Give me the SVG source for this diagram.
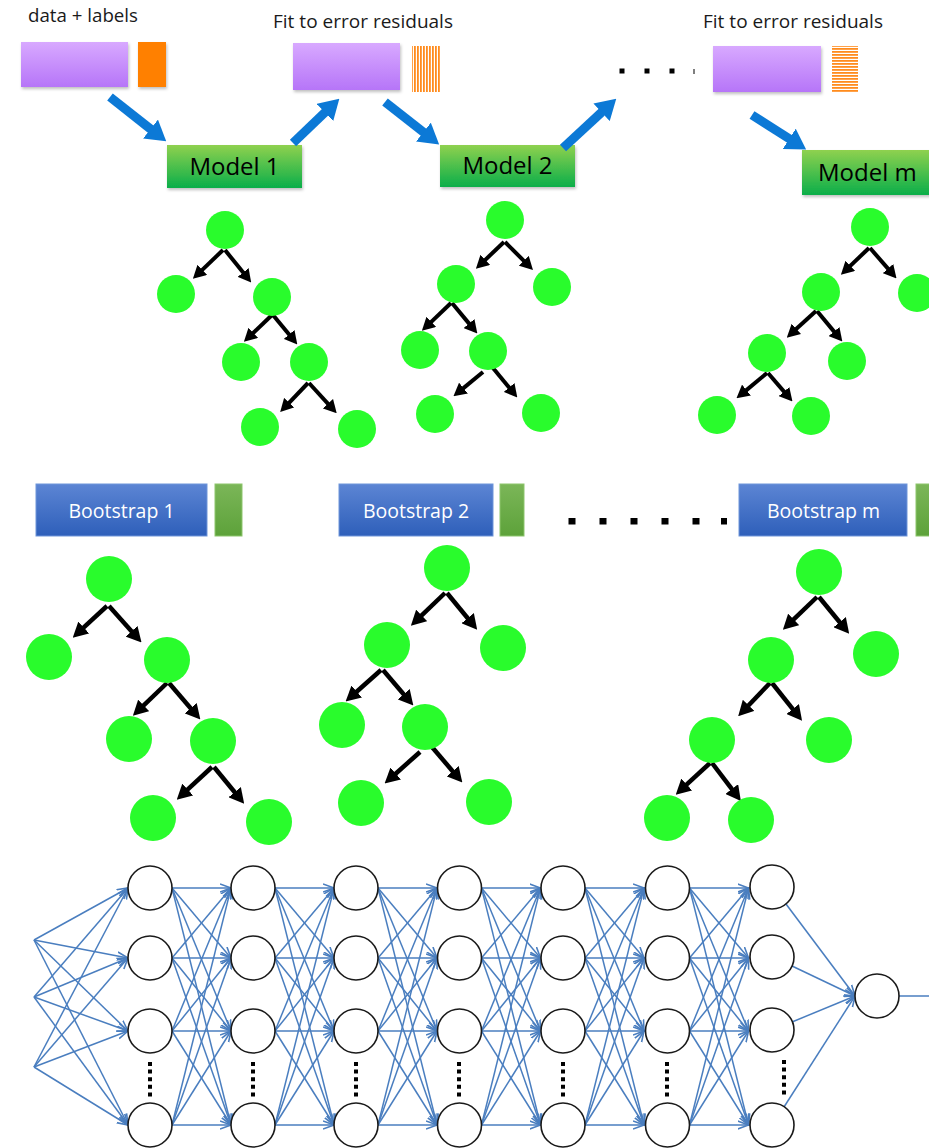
<svg xmlns="http://www.w3.org/2000/svg" xmlns:xlink="http://www.w3.org/1999/xlink" width="929" height="1148" viewBox="0 0 929 1148">
<defs>
<linearGradient id="gPurple" x1="0" y1="0" x2="0" y2="1"><stop offset="0" stop-color="#d8a9ff"/><stop offset="1" stop-color="#b675f8"/></linearGradient>
<linearGradient id="gModel" x1="0" y1="0" x2="0" y2="1"><stop offset="0" stop-color="#8fd14f"/><stop offset="1" stop-color="#0aae4a"/></linearGradient>
<linearGradient id="gBlue" x1="0" y1="0" x2="0" y2="1"><stop offset="0" stop-color="#5c85d4"/><stop offset="1" stop-color="#2e5fba"/></linearGradient>
<linearGradient id="gGreenBar" x1="0" y1="0" x2="0" y2="1"><stop offset="0" stop-color="#7bb658"/><stop offset="1" stop-color="#5da23a"/></linearGradient>
<pattern id="pV" patternUnits="userSpaceOnUse" width="3" height="10"><rect width="3" height="10" fill="#ffffff"/><rect width="1.8" height="10" fill="#ff8c1e"/></pattern>
<pattern id="pH" patternUnits="userSpaceOnUse" width="10" height="3"><rect width="10" height="3" fill="#ffffff"/><rect width="10" height="1.8" fill="#ff8c1e"/></pattern>
<filter id="sh" x="-10%" y="-10%" width="125%" height="135%"><feDropShadow dx="1" dy="2" stdDeviation="1.5" flood-color="#000" flood-opacity="0.25"/></filter>
<marker id="bigA" markerUnits="userSpaceOnUse" viewBox="0 0 20 24" markerWidth="20" markerHeight="24" refX="1" refY="12" orient="auto"><path d="M0,0 L20,12 L0,24 z" fill="#0c79d6"/></marker>
<marker id="tA" markerUnits="userSpaceOnUse" viewBox="0 0 13 14" markerWidth="13" markerHeight="14" refX="4" refY="7" orient="auto"><path d="M0,0 L13,7 L0,14 z" fill="#000"/></marker>
<marker id="tB" markerUnits="userSpaceOnUse" viewBox="0 0 15 16" markerWidth="15" markerHeight="16" refX="4" refY="8" orient="auto"><path d="M0,0 L15,8 L0,16 z" fill="#000"/></marker>
<marker id="nA" markerUnits="userSpaceOnUse" viewBox="0 0 12 10" markerWidth="12" markerHeight="10" refX="11" refY="5" orient="auto"><path d="M0,1 L11,5 L0,9" fill="none" stroke="#4a7ebf" stroke-width="1.6"/></marker>
<g id="gap" stroke="#4a7ebf" stroke-width="1.5" marker-end="url(#nA)">
<line x1="172" y1="888" x2="231" y2="888"/><line x1="172" y1="888" x2="231" y2="958"/><line x1="172" y1="888" x2="231" y2="1031"/><line x1="172" y1="888" x2="231" y2="1125"/>
<line x1="172" y1="958" x2="231" y2="888"/><line x1="172" y1="958" x2="231" y2="958"/><line x1="172" y1="958" x2="231" y2="1031"/><line x1="172" y1="958" x2="231" y2="1125"/>
<line x1="172" y1="1031" x2="231" y2="888"/><line x1="172" y1="1031" x2="231" y2="958"/><line x1="172" y1="1031" x2="231" y2="1031"/><line x1="172" y1="1031" x2="231" y2="1125"/>
<line x1="172" y1="1125" x2="231" y2="888"/><line x1="172" y1="1125" x2="231" y2="958"/><line x1="172" y1="1125" x2="231" y2="1031"/><line x1="172" y1="1125" x2="231" y2="1125"/>
</g>
</defs>
<style>
.lbl{font-family:"Open Sans","Liberation Sans",sans-serif;font-size:17.5px;fill:#1a1a1a}
.mdl{font-family:"Open Sans","Liberation Sans",sans-serif;font-size:24px;fill:#000}
.bs{font-family:"Open Sans","Liberation Sans",sans-serif;font-size:19.5px;fill:#ffffff}
.big{stroke:#0c79d6;stroke-width:9;fill:none;marker-end:url(#bigA)}
.ta{stroke:#000;stroke-width:4;marker-end:url(#tA)}
.tb{stroke:#000;stroke-width:4.5;marker-end:url(#tB)}
.leaf{fill:#29fc2c}
.nn line{stroke:#4a7ebf;stroke-width:1.5;marker-end:url(#nA)}
.neuron{fill:#ffffff;stroke:#1a1a1a;stroke-width:1.6}
.vd{stroke:#000;stroke-width:4;stroke-dasharray:4 3.6}
.sq{fill:#000}
</style>
<rect width="929" height="1148" fill="#ffffff"/>

<!-- top boosting row -->
<g id="data-labels">
<text class="lbl" x="28" y="22" textLength="110" lengthAdjust="spacingAndGlyphs">data + labels</text>
<rect x="21" y="42" width="107" height="45" fill="url(#gPurple)" filter="url(#sh)"/>
<rect x="138" y="42" width="28" height="45" fill="#ff8000" filter="url(#sh)"/>
</g>
<g id="residuals-1">
<text class="lbl" x="273" y="28" textLength="180" lengthAdjust="spacingAndGlyphs">Fit to error residuals</text>
<rect x="293" y="43" width="107" height="47" fill="url(#gPurple)" filter="url(#sh)"/>
<rect x="412" y="46" width="28" height="46" fill="url(#pV)"/>
</g>
<g id="dots-top">
<rect class="sq" x="619.5" y="68.5" width="5" height="5"/>
<rect class="sq" x="644.5" y="68.5" width="5" height="5"/>
<rect class="sq" x="669.5" y="68.5" width="5" height="5"/>
<rect class="sq" x="693.5" y="69" width="1" height="5"/>
</g>
<g id="residuals-m">
<text class="lbl" x="703" y="28" textLength="180" lengthAdjust="spacingAndGlyphs">Fit to error residuals</text>
<rect x="713" y="46" width="108" height="46" fill="url(#gPurple)" filter="url(#sh)"/>
<rect x="832" y="46" width="26" height="46" fill="url(#pH)"/>
</g>
<g id="model-1">
<rect x="167" y="145" width="135" height="43" fill="url(#gModel)" filter="url(#sh)"/>
<text class="mdl" x="234.5" y="175" text-anchor="middle">Model 1</text>
</g>
<g id="model-2">
<rect x="440" y="145" width="135" height="42" fill="url(#gModel)" filter="url(#sh)"/>
<text class="mdl" x="507.5" y="174" text-anchor="middle">Model 2</text>
</g>
<g id="model-m">
<rect x="802" y="150" width="140" height="45" fill="url(#gModel)" filter="url(#sh)"/>
<text class="mdl" x="818" y="181">Model m</text>
</g>
<g id="boost-connectors">
<line class="big" x1="110" y1="97" x2="151.3" y2="129.6"/>
<line class="big" x1="293" y1="143" x2="325.6" y2="111.8"/>
<line class="big" x1="385" y1="102" x2="424.2" y2="132.7"/>
<line class="big" x1="563" y1="148" x2="602.3" y2="111.6"/>
<line class="big" x1="752" y1="115" x2="790.1" y2="139.3"/>
</g>

<!-- top trees -->
<g id="tree-top-connectors">
<line class="ta" x1="223" y1="250" x2="199.4" y2="272.6"/>
<line class="ta" x1="225" y1="250" x2="245.6" y2="275.6"/>
<line class="ta" x1="272" y1="315" x2="250.4" y2="335.6"/>
<line class="ta" x1="273" y1="315" x2="291.6" y2="337.6"/>
<line class="ta" x1="308" y1="383" x2="286.4" y2="405.6"/>
<line class="ta" x1="309" y1="383" x2="330.6" y2="406.6"/>
<line class="ta" x1="504" y1="242" x2="482.4" y2="262.6"/>
<line class="ta" x1="505" y1="242" x2="526.6" y2="263.6"/>
<line class="ta" x1="451" y1="303" x2="428.4" y2="324.6"/>
<line class="ta" x1="452" y1="303" x2="471.6" y2="326.6"/>
<line class="ta" x1="483" y1="372" x2="460.4" y2="390.6"/>
<line class="ta" x1="493" y1="368" x2="511.6" y2="390.6"/>
<line class="ta" x1="869" y1="248" x2="847.4" y2="268.6"/>
<line class="ta" x1="870" y1="248" x2="890.6" y2="271.6"/>
<line class="ta" x1="816" y1="311" x2="793.4" y2="331.6"/>
<line class="ta" x1="817" y1="311" x2="836.6" y2="334.6"/>
<line class="ta" x1="767" y1="373" x2="743.4" y2="392.6"/>
<line class="ta" x1="768" y1="373" x2="786.6" y2="394.6"/>
</g>
<g id="t1-root"><circle class="leaf" cx="225" cy="230" r="19"/></g>
<g id="t1-l"><circle class="leaf" cx="176" cy="294" r="19"/></g>
<g id="t1-r"><circle class="leaf" cx="272" cy="297" r="19"/></g>
<g id="t1-rl"><circle class="leaf" cx="241" cy="362" r="19"/></g>
<g id="t1-rr"><circle class="leaf" cx="309" cy="362" r="19"/></g>
<g id="t1-rrl"><circle class="leaf" cx="260" cy="427" r="19"/></g>
<g id="t1-rrr"><circle class="leaf" cx="357" cy="429" r="19"/></g>
<g id="t2-root"><circle class="leaf" cx="505" cy="220" r="19"/></g>
<g id="t2-l"><circle class="leaf" cx="456" cy="284" r="19"/></g>
<g id="t2-r"><circle class="leaf" cx="552" cy="287" r="19"/></g>
<g id="t2-ll"><circle class="leaf" cx="420" cy="350" r="19"/></g>
<g id="t2-lr"><circle class="leaf" cx="488" cy="351" r="19"/></g>
<g id="t2-lrl"><circle class="leaf" cx="435" cy="414" r="19"/></g>
<g id="t2-lrr"><circle class="leaf" cx="541" cy="413" r="19"/></g>
<g id="t3-root"><circle class="leaf" cx="870" cy="227" r="19"/></g>
<g id="t3-l"><circle class="leaf" cx="821" cy="292" r="19"/></g>
<g id="t3-r"><circle class="leaf" cx="917" cy="293" r="19"/></g>
<g id="t3-ll"><circle class="leaf" cx="767" cy="353" r="19"/></g>
<g id="t3-lr"><circle class="leaf" cx="847" cy="361" r="19"/></g>
<g id="t3-lll"><circle class="leaf" cx="717" cy="415" r="19"/></g>
<g id="t3-llr"><circle class="leaf" cx="811" cy="416" r="19"/></g>

<!-- bagging row -->
<g id="bootstrap-1">
<rect x="36" y="484" width="171" height="52" fill="url(#gBlue)" stroke="#6e95d9" stroke-width="1"/>
<text class="bs" x="121.5" y="518" text-anchor="middle">Bootstrap 1</text>
<rect x="215" y="484" width="27" height="52" fill="url(#gGreenBar)" stroke="#8dc56c" stroke-width="1"/>
</g>
<g id="bootstrap-2">
<rect x="339" y="484" width="154" height="52" fill="url(#gBlue)" stroke="#6e95d9" stroke-width="1"/>
<text class="bs" x="416" y="518" text-anchor="middle">Bootstrap 2</text>
<rect x="500" y="484" width="24" height="52" fill="url(#gGreenBar)" stroke="#8dc56c" stroke-width="1"/>
</g>
<g id="dots-bootstrap">
<rect class="sq" x="568.5" y="518" width="7" height="6.5"/>
<rect class="sq" x="599.5" y="518" width="7" height="6.5"/>
<rect class="sq" x="630.5" y="518" width="7" height="6.5"/>
<rect class="sq" x="661.5" y="518" width="7" height="6.5"/>
<rect class="sq" x="692.5" y="518" width="7" height="6.5"/>
<rect class="sq" x="721" y="518" width="6" height="6.5"/>
</g>
<g id="bootstrap-m">
<rect x="739" y="484" width="168" height="52" fill="url(#gBlue)" stroke="#6e95d9" stroke-width="1"/>
<text class="bs" x="823.5" y="518" text-anchor="middle">Bootstrap m</text>
<rect x="916" y="484" width="20" height="52" fill="url(#gGreenBar)" stroke="#8dc56c" stroke-width="1"/>
</g>

<!-- bottom trees -->
<g id="tree-bottom-connectors">
<line class="tb" x1="107" y1="606" x2="80.8" y2="630.2"/>
<line class="tb" x1="109" y1="606" x2="134.2" y2="634.2"/>
<line class="tb" x1="167" y1="683" x2="140.8" y2="708.2"/>
<line class="tb" x1="169" y1="683" x2="193.2" y2="711.2"/>
<line class="tb" x1="212" y1="767" x2="184.8" y2="792.2"/>
<line class="tb" x1="214" y1="767" x2="237.2" y2="795.2"/>
<line class="tb" x1="445" y1="593" x2="418.8" y2="618.2"/>
<line class="tb" x1="447" y1="593" x2="470.2" y2="621.2"/>
<line class="tb" x1="381" y1="670" x2="353.8" y2="694.2"/>
<line class="tb" x1="383" y1="670" x2="406.2" y2="697.2"/>
<line class="tb" x1="420" y1="752" x2="392.8" y2="776.2"/>
<line class="tb" x1="432" y1="747" x2="455.2" y2="774.2"/>
<line class="tb" x1="817" y1="597" x2="790.8" y2="622.2"/>
<line class="tb" x1="819" y1="597" x2="842.2" y2="625.2"/>
<line class="tb" x1="770" y1="683" x2="745.8" y2="708.2"/>
<line class="tb" x1="772" y1="683" x2="795.2" y2="712.2"/>
<line class="tb" x1="710" y1="763" x2="683.8" y2="787.2"/>
<line class="tb" x1="712" y1="763" x2="734.2" y2="792.2"/>
</g>
<g id="b1-root"><circle class="leaf" cx="109" cy="579" r="23"/></g>
<g id="b1-l"><circle class="leaf" cx="49" cy="657" r="23"/></g>
<g id="b1-r"><circle class="leaf" cx="167" cy="660" r="23"/></g>
<g id="b1-rl"><circle class="leaf" cx="129" cy="739" r="23"/></g>
<g id="b1-rr"><circle class="leaf" cx="213" cy="741" r="23"/></g>
<g id="b1-rrl"><circle class="leaf" cx="153" cy="818" r="23"/></g>
<g id="b1-rrr"><circle class="leaf" cx="269" cy="822" r="23"/></g>
<g id="b2-root"><circle class="leaf" cx="447" cy="568" r="23"/></g>
<g id="b2-l"><circle class="leaf" cx="387" cy="645" r="23"/></g>
<g id="b2-r"><circle class="leaf" cx="503" cy="648" r="23"/></g>
<g id="b2-ll"><circle class="leaf" cx="342" cy="725" r="23"/></g>
<g id="b2-lr"><circle class="leaf" cx="425" cy="727" r="23"/></g>
<g id="b2-lrl"><circle class="leaf" cx="361" cy="803" r="23"/></g>
<g id="b2-lrr"><circle class="leaf" cx="489" cy="802" r="23"/></g>
<g id="b3-root"><circle class="leaf" cx="819" cy="572" r="23"/></g>
<g id="b3-l"><circle class="leaf" cx="771" cy="660" r="23"/></g>
<g id="b3-r"><circle class="leaf" cx="876" cy="654" r="23"/></g>
<g id="b3-ll"><circle class="leaf" cx="712" cy="740" r="23"/></g>
<g id="b3-lr"><circle class="leaf" cx="829" cy="740" r="23"/></g>
<g id="b3-lll"><circle class="leaf" cx="667" cy="818" r="23"/></g>
<g id="b3-llr"><circle class="leaf" cx="751" cy="820" r="23"/></g>

<!-- neural network -->
<g id="nn-connectors" class="nn">
<line x1="34" y1="940" x2="128" y2="888"/><line x1="34" y1="940" x2="128" y2="958"/><line x1="34" y1="940" x2="128" y2="1031"/><line x1="34" y1="940" x2="128" y2="1125"/>
<line x1="34" y1="997" x2="128" y2="888"/><line x1="34" y1="997" x2="128" y2="958"/><line x1="34" y1="997" x2="128" y2="1031"/><line x1="34" y1="997" x2="128" y2="1125"/>
<line x1="34" y1="1067" x2="128" y2="888"/><line x1="34" y1="1067" x2="128" y2="958"/><line x1="34" y1="1067" x2="128" y2="1031"/><line x1="34" y1="1067" x2="128" y2="1125"/>
<use xlink:href="#gap" href="#gap"/>
<use xlink:href="#gap" href="#gap" transform="translate(103,0)"/>
<use xlink:href="#gap" href="#gap" transform="translate(206,0)"/>
<use xlink:href="#gap" href="#gap" transform="translate(309.5,0)"/>
<use xlink:href="#gap" href="#gap" transform="translate(413,0)"/>
<use xlink:href="#gap" href="#gap" transform="translate(517.5,0)"/>
<line x1="786" y1="904" x2="855" y2="996"/>
<line x1="792" y1="966" x2="855" y2="996"/>
<line x1="792" y1="1022" x2="855" y2="996"/>
<line x1="784" y1="1107" x2="855" y2="996"/>
<line x1="899" y1="996" x2="940" y2="996" style="marker-end:none"/>
</g>
<g id="nn-dots">
<line class="vd" x1="150" y1="1062" x2="150" y2="1098"/>
<line class="vd" x1="253" y1="1062" x2="253" y2="1098"/>
<line class="vd" x1="356" y1="1062" x2="356" y2="1098"/>
<line class="vd" x1="459" y1="1062" x2="459" y2="1098"/>
<line class="vd" x1="563" y1="1062" x2="563" y2="1098"/>
<line class="vd" x1="667" y1="1062" x2="667" y2="1098"/>
<line class="vd" x1="784" y1="1060" x2="784" y2="1096"/>
</g>
<g id="nn-l1"><circle class="neuron" cx="150" cy="888" r="22"/><circle class="neuron" cx="150" cy="958" r="22"/><circle class="neuron" cx="150" cy="1031" r="22"/><circle class="neuron" cx="150" cy="1125" r="22"/></g>
<g id="nn-l2"><circle class="neuron" cx="253" cy="888" r="22"/><circle class="neuron" cx="253" cy="958" r="22"/><circle class="neuron" cx="253" cy="1031" r="22"/><circle class="neuron" cx="253" cy="1125" r="22"/></g>
<g id="nn-l3"><circle class="neuron" cx="356" cy="888" r="22"/><circle class="neuron" cx="356" cy="958" r="22"/><circle class="neuron" cx="356" cy="1031" r="22"/><circle class="neuron" cx="356" cy="1125" r="22"/></g>
<g id="nn-l4"><circle class="neuron" cx="459.5" cy="888" r="22"/><circle class="neuron" cx="459.5" cy="958" r="22"/><circle class="neuron" cx="459.5" cy="1031" r="22"/><circle class="neuron" cx="459.5" cy="1125" r="22"/></g>
<g id="nn-l5"><circle class="neuron" cx="563" cy="888" r="22"/><circle class="neuron" cx="563" cy="958" r="22"/><circle class="neuron" cx="563" cy="1031" r="22"/><circle class="neuron" cx="563" cy="1125" r="22"/></g>
<g id="nn-l6"><circle class="neuron" cx="667.5" cy="888" r="22"/><circle class="neuron" cx="667.5" cy="958" r="22"/><circle class="neuron" cx="667.5" cy="1031" r="22"/><circle class="neuron" cx="667.5" cy="1125" r="22"/></g>
<g id="nn-l7"><circle class="neuron" cx="772" cy="887" r="22"/><circle class="neuron" cx="772" cy="957" r="22"/><circle class="neuron" cx="772" cy="1030" r="22"/><circle class="neuron" cx="772" cy="1125" r="22"/></g>
<g id="nn-out"><circle class="neuron" cx="877" cy="996" r="22"/></g>
</svg>
